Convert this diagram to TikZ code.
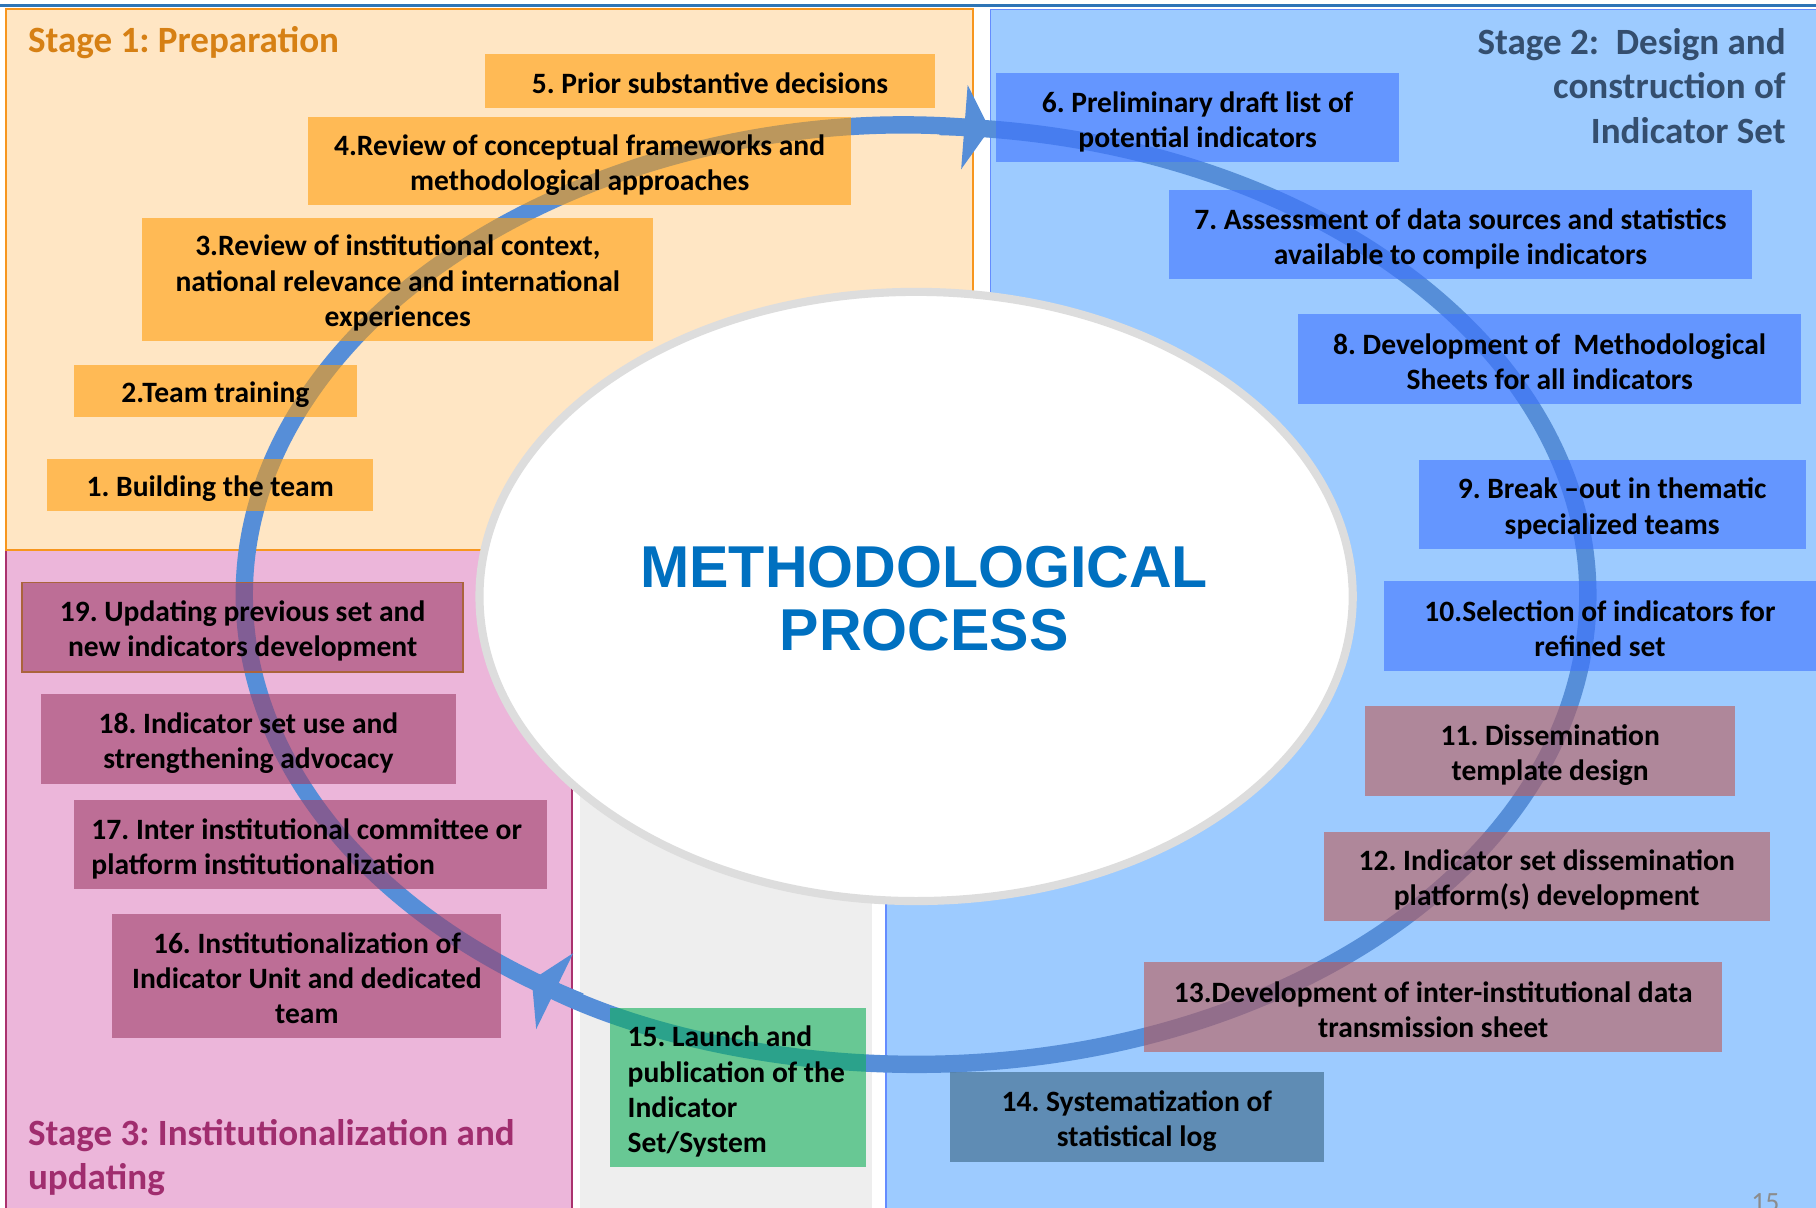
\documentclass[tikz,border=0pt]{standalone}
\usepackage{fontspec}
\setmainfont{Carlito}
\newfontfamily\titlefont{Liberation Sans}
\frenchspacing
\usetikzlibrary{arrows.meta}
\definecolor{topline}{RGB}{46,117,182}
\definecolor{prepback}{RGB}{255,230,196}
\definecolor{prepedge}{RGB}{247,150,30}
\definecolor{prepbox}{RGB}{255,158,11}
\definecolor{preptext}{RGB}{214,128,20}
\definecolor{designback}{RGB}{157,203,255}
\definecolor{designedge}{RGB}{100,140,255}
\definecolor{designbox}{RGB}{62,115,255}
\definecolor{designtext}{RGB}{52,78,110}
\definecolor{dissbox}{RGB}{187,90,88}
\definecolor{logbox}{RGB}{55,98,130}
\definecolor{launchbox}{RGB}{15,176,88}
\definecolor{instback}{RGB}{236,182,218}
\definecolor{instedge}{RGB}{170,50,110}
\definecolor{instbox}{RGB}{159,62,105}
\definecolor{insttext}{RGB}{160,45,110}
\definecolor{boxedge}{RGB}{170,100,60}
\definecolor{cyclegray}{RGB}{238,238,238}
\definecolor{ringgray}{RGB}{221,221,221}
\definecolor{titleblue}{RGB}{0,112,192}
\definecolor{cycleblue}{RGB}{86,142,216}
\definecolor{pagegray}{RGB}{140,140,140}

\begin{document}
\begin{tikzpicture}[x=1pt, y=-1pt,
  stepbox/.style={inner sep=0pt, align=flush center, fill opacity=0.6, text opacity=1,
    font=\bfseries\fontsize{25.5}{30.5}\selectfont,
    execute at begin node={\rule{0pt}{25pt}},
    execute at end node={\rule[-3pt]{0pt}{3pt}}},
  prep/.style={stepbox, fill=prepbox},
  design/.style={stepbox, fill=designbox},
  diss/.style={stepbox, fill=dissbox},
  inst/.style={stepbox, fill=instbox},
  stagelbl/.style={inner sep=0pt, font=\bfseries\fontsize{32}{38.5}\selectfont},
  cyclearc/.style={line width=15pt, cycleblue, -{Triangle[length=22pt, width=72pt]}}]
\useasboundingbox (0,0) rectangle (1568,1043);
\clip (0,0) rectangle (1568,1043);
\fill[white] (0,0) rectangle (1568,1043);
% Stage backgrounds
\draw[topline, line width=2.5pt] (0,5) -- (1568,5);
\filldraw[fill=instback, draw=instedge, line width=1.5pt] (5,472) rectangle (494,1060);
\filldraw[fill=prepback, draw=prepedge, line width=1.5pt] (5,8) rectangle (840,475);
\fill[cyclegray] (501,560) rectangle (753,1043);
\filldraw[fill=designback, draw=designedge, line width=1pt]
  (855,8) -- (1575,8) -- (1575,1050) -- (765,1050) -- (765,560) -- (855,560) -- cycle;
% Centre ellipse and title
\filldraw[fill=white, draw=ringgray, line width=7pt] (791,515) ellipse [x radius=377, y radius=263];
\node[text=titleblue, align=center, font=\titlefont\bfseries\fontsize{51}{55}\selectfont]
  (title) at (798,517) {METHODOLOGICAL\\PROCESS};
% Circular arrow round the process
\draw[cyclearc] (791,514) ++(120:580 and 405)
  arc[start angle=120, end angle=276.3, x radius=580, y radius=405];
\draw[cyclearc] (791,514) ++(272:580 and 405)
  arc[start angle=272, end angle=484.9, x radius=580, y radius=405];
% Stage 1 steps
\node[prep, text width=281, minimum height=45] (s1) at (181.5,418.5) {1. Building the team};
\node[prep, text width=244, minimum height=45] (s2) at (186,337.5) {2.Team training};
\node[prep, text width=441, minimum height=106] (s3) at (343.5,241)
  {3.Review of institutional context,\\national relevance and international\\experiences};
\node[prep, text width=469, minimum height=76] (s4) at (500.5,139)
  {4.Review of conceptual frameworks and\\methodological approaches};
\node[prep, text width=388, minimum height=46] (s5) at (613,70) {5. Prior substantive decisions};
% Stage 2 steps
\node[design, text width=348, minimum height=77] (s6) at (1034,101.5)
  {6. Preliminary draft list of\\potential indicators};
\node[design, text width=504, minimum height=77] (s7) at (1261,202.5)
  {7. Assessment of data sources and statistics\\available to compile indicators};
\node[design, text width=434, minimum height=78] (s8) at (1338,310)
  {8. Development of\ \ Methodological\\Sheets for all indicators};
\node[design, text width=334, minimum height=77] (s9) at (1392,435.5)
  {9. Break –out in thematic\\specialized teams};
\node[design, text width=373, minimum height=77] (s10) at (1381.5,540.5)
  {10.Selection of indicators for\\refined set};
\node[diss, text width=319, minimum height=77] (s11) at (1338.5,648.5)
  {11. Dissemination\\template design};
\node[diss, text width=385, minimum height=77] (s12) at (1335.5,756.5)
  {12. Indicator set dissemination\\platform(s) development};
\node[diss, text width=499, minimum height=77] (s13) at (1237.5,869.5)
  {13.Development of inter-institutional data\\transmission sheet};
\node[stepbox, fill=logbox, text width=323, minimum height=77] (s14) at (981.5,964.5)
  {14. Systematization of\\statistical log};
\node[stepbox, fill=launchbox, align=flush left, text width=191, inner xsep=15, minimum height=138]
  (s15) at (637.5,939) {15. Launch and\\publication of the\\Indicator\\Set/System};
% Stage 3 steps
\node[inst, text width=336, minimum height=107] (s16) at (265,842.5)
  {16. Institutionalization of\\Indicator Unit and dedicated\\team};
\node[inst, align=flush left, text width=378, inner xsep=15, minimum height=77] (s17) at (268,729.5)
  {17. Inter institutional committee or\\platform institutionalization};
\node[inst, text width=359, minimum height=78] (s18) at (214.5,638)
  {18. Indicator set use and\\strengthening advocacy};
\node[inst, draw=boxedge, line width=1.5pt, text width=381, minimum height=77] (s19) at (209.5,541.5)
  {19. Updating previous set and\\new indicators development};
% Stage labels
\node[stagelbl, text=preptext, anchor=base west] (st1) at (24,45.5) {Stage 1: Preparation};
\node[stagelbl, text=designtext, align=right, anchor=north east] (st2) at (1542,24)
  {Stage 2:\ \ Design and\\construction of\\Indicator Set};
\node[stagelbl, text=insttext, align=left, anchor=north west] (st3) at (24,966)
  {Stage 3: Institutionalization and\\updating};
\node[text=pagegray, inner sep=0pt, anchor=base west, font=\fontsize{24}{28}\selectfont]
  (page) at (1512,1046) {15};
\end{tikzpicture}
\end{document}
